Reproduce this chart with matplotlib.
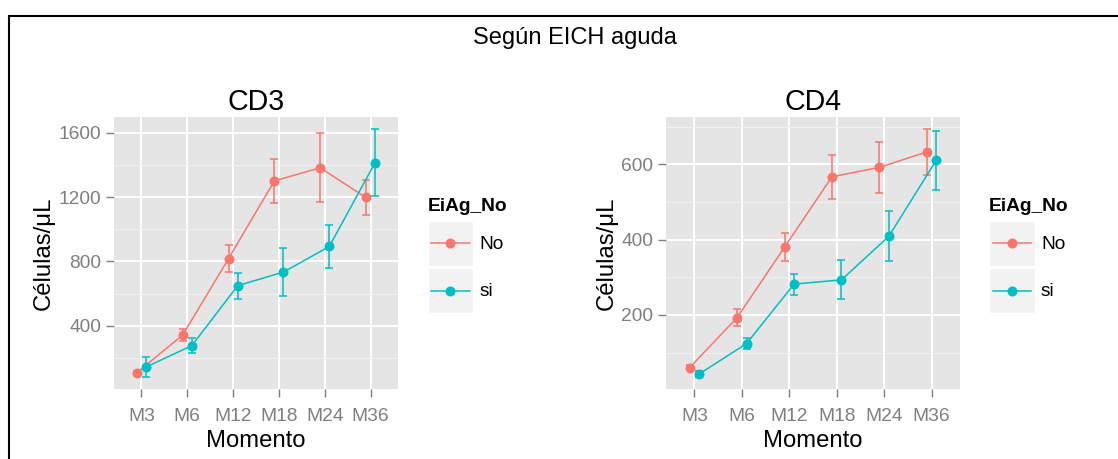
import matplotlib
matplotlib.use("Agg")
import matplotlib.pyplot as plt
from matplotlib.lines import Line2D
from matplotlib.patches import Rectangle
import numpy as np

plt.rcParams['font.family'] = ['Liberation Sans', 'DejaVu Sans']

# ---- data ----
moments = ["M3", "M6", "M12", "M18", "M24", "M36"]
groups = ["No", "si"]
group_colors = ["#F8766D", "#00BFC4"]

cd3_no = [108, 342, 817, 1301, 1383, 1198]
cd3_no_se = [10, 38, 85, 138, 215, 110]
cd3_si = [143, 276, 649, 734, 893, 1415]
cd3_si_se = [60, 46, 80, 147, 136, 207]

cd4_no = [60, 193, 380, 567, 592, 633]
cd4_no_se = [6, 22, 37, 59, 67, 60]
cd4_si = [43, 124, 282, 293, 409, 611]
cd4_si_se = [7, 14, 28, 52, 66, 78]

cd3_major = [400, 800, 1200, 1600]
cd3_minor = [200, 600, 1000, 1400]
cd4_major = [200, 400, 600]
cd4_minor = [100, 300, 500, 700]

# ---- figure geometry (pixels) ----
W, H, DPI = 1118, 459, 100
fig = plt.figure(figsize=(W / DPI, H / DPI), dpi=DPI)
fig.patch.set_facecolor("white")

GREY_TXT = "#7F7F7F"
PANEL_BG = "#E5E5E5"
KEY_BG = "#F2F2F2"
BASE = 17.2


def fx(px):
    return px / W


def fy(py):
    return 1 - py / H


def draw_panel(left, right, top, bottom, title, series, major, minor, legend_x):
    ax = fig.add_axes([fx(left), fy(bottom), (right - left) / W, (bottom - top) / H])
    ax.set_facecolor(PANEL_BG)
    for s in ax.spines.values():
        s.set_visible(False)

    x = np.arange(len(moments))
    dodge = [-0.1, 0.1]
    lows, highs = [], []
    for (vals, se), color, dx in zip(series, group_colors, dodge):
        vals = np.asarray(vals, float)
        se = np.asarray(se, float)
        lows.append((vals - se).min())
        highs.append((vals + se).max())
        ax.errorbar(x + dx, vals, yerr=se, fmt="none", ecolor=color,
                    elinewidth=1.1, capsize=2.6, capthick=1.1, zorder=3)
    for (vals, se), color, dx in zip(series, group_colors, dodge):
        ax.plot(x + dx, vals, color=color, lw=1.1, zorder=4)
    for (vals, se), color, dx in zip(series, group_colors, dodge):
        ax.plot(x + dx, vals, "o", color=color, ms=7.2, mew=0, zorder=5)

    lo, hi = min(lows), max(highs)
    pad = 0.05 * (hi - lo)
    ax.set_ylim(lo - pad, hi + pad)
    ax.set_xlim(-0.6, len(moments) - 0.4)

    ax.set_xticks(x, moments)
    ax.set_yticks(major)
    ax.set_yticks(minor, minor=True)
    ax.set_axisbelow(True)
    ax.grid(which="major", color="white", lw=1.4)
    ax.grid(which="minor", axis="y", color="#F2F2F2", lw=0.7)
    ax.tick_params(which="major", colors=GREY_TXT, labelsize=BASE * 0.8,
                   length=5.5, width=1.0, pad=3.5)
    ax.tick_params(axis="x", pad=8)
    ax.tick_params(which="minor", length=0)

    ax.set_title(title, fontsize=BASE * 1.2, pad=5)
    ax.set_xlabel("Momento", fontsize=BASE, labelpad=3.5)
    ax.set_ylabel("Células/μL", fontsize=BASE, labelpad=3)

    # legend
    fig.text(fx(legend_x), fy(210.7), "EiAg_No", fontsize=BASE * 0.8,
             fontweight="bold", ha="left", va="baseline")
    kw, kh = 45.5, 45
    for i, (g, color) in enumerate(zip(groups, group_colors)):
        ktop = 221 + i * 47
        cy = ktop + kh / 2
        fig.add_artist(Rectangle((fx(legend_x), fy(ktop + kh)), kw / W, kh / H,
                                 transform=fig.transFigure, facecolor=KEY_BG,
                                 edgecolor="white", lw=1))
        fig.add_artist(Line2D([fx(legend_x + 3.5), fx(legend_x + kw - 3.5)],
                              [fy(cy), fy(cy)], color=color, lw=1.1,
                              transform=fig.transFigure))
        fig.add_artist(Line2D([fx(legend_x + kw / 2)], [fy(cy)], marker="o",
                              ms=7.2, mew=0, color=color,
                              transform=fig.transFigure))
        fig.text(fx(legend_x + kw + 6.5), fy(cy + 1), g, fontsize=BASE * 0.8,
                 ha="left", va="center")
    return ax


draw_panel(114, 398, 117, 389, "CD3",
           [(cd3_no, cd3_no_se), (cd3_si, cd3_si_se)],
           cd3_major, cd3_minor, 427.7)
draw_panel(666, 960, 117, 389, "CD4",
           [(cd4_no, cd4_no_se), (cd4_si, cd4_si_se)],
           cd4_major, cd4_minor, 989)

# overall title and frame
fig.text(fx(575), fy(44.3), "Según EICH aguda", fontsize=17, ha="center",
         va="baseline")
fig.add_artist(Line2D([fx(8.8), fx(8.8), fx(1125)], [fy(470), fy(16), fy(16)],
                      color="black", lw=1.5, transform=fig.transFigure,
                      solid_joinstyle="miter"))

fig.savefig("out.png", dpi=DPI)
